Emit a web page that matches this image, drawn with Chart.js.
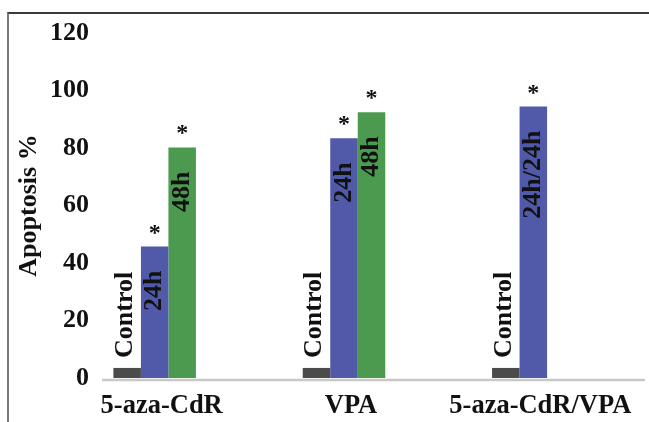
<!DOCTYPE html>
<html>
<head>
    <script src="https://cdn.jsdelivr.net/npm/chart.js"></script>
    <style>
        body { margin: 0; background: #fff; overflow: hidden; }
        #frame { position: absolute; left: 7px; top: 12px; width: 700px; height: 500px;
                 border-top: 2px solid #3a3a3a; border-left: 2px solid #7a7a7a; }
        #apoptosis { position: absolute; left: 0; top: 0; }
    </style>
</head>
<body>
<div id="frame"></div>
<canvas id="apoptosis" width="649" height="422"></canvas>

<script>
    const groups = ['5-aza-CdR', 'VPA', '5-aza-CdR/VPA'];
    const control = [3.5, 3.5, 3.5];
    const h24 = [45.7, 83.4, 94.4];
    const h48 = [80.2, 92.4, null];
    const yTicks = [0, 20, 40, 60, 80, 100, 120];

    // text drawn on / above each bar, and which bars carry a significance star
    const controlText = ['Control', 'Control', 'Control'];
    const text24 = ['24h', '24h', '24h/24h'];
    const text48 = ['48h', '48h', ''];
    const star24 = [true, true, true];
    const star48 = [true, true, false];

    const serif = '"Liberation Serif", "Times New Roman", serif';

    const barNotes = {
        id: 'barNotes',
        beforeDatasetsDraw(chart) {
            const ctx = chart.ctx;
            const y0 = chart.scales.y.getPixelForValue(0) + 2;
            ctx.save();
            ctx.strokeStyle = '#c8c8c8';
            ctx.lineWidth = 2.5;
            ctx.beginPath();
            ctx.moveTo(chart.chartArea.left + 42, y0);
            ctx.lineTo(chart.width - 4, y0);
            ctx.stroke();
            ctx.restore();
        },
        afterDatasetsDraw(chart) {
            const ctx = chart.ctx;
            const texts = [controlText, text24, text48];
            const stars = [[false, false, false], star24, star48];
            ctx.save();
            ctx.fillStyle = '#111';
            chart.data.datasets.forEach((ds, i) => {
                chart.getDatasetMeta(i).data.forEach((bar, j) => {
                    if (ds.data[j] == null) return;
                    const t = texts[i][j];
                    if (t) {
                        ctx.save();
                        ctx.font = 'bold 26px ' + serif;
                        ctx.textBaseline = 'middle';
                        if (i === 0) {
                            ctx.translate(bar.x - 2, bar.y - 10);
                            ctx.rotate(-Math.PI / 2);
                            ctx.textAlign = 'left';
                        } else {
                            ctx.translate(bar.x, bar.y + 24);
                            ctx.rotate(-Math.PI / 2);
                            ctx.textAlign = 'right';
                        }
                        ctx.fillText(t, 0, 0);
                        ctx.restore();
                    }
                    if (stars[i][j]) {
                        ctx.font = 'bold 24px ' + serif;
                        ctx.textAlign = 'center';
                        ctx.textBaseline = 'alphabetic';
                        ctx.fillText('*', bar.x, bar.y - 7);
                    }
                });
            });
            ctx.restore();
        }
    };

    new Chart(document.getElementById('apoptosis'), {
        type: 'bar',
        data: {
            labels: groups,
            datasets: [
                { label: 'Control', data: control, backgroundColor: '#4b4b4b' },
                { label: '24h', data: h24, backgroundColor: '#5159a9' },
                { label: '48h', data: h48, backgroundColor: '#4b9a4f' }
            ]
        },
        options: {
            responsive: false,
            animation: false,
            layout: { padding: { left: 10, right: 21, top: 33, bottom: 0 } },
            datasets: { bar: { barPercentage: 1, categoryPercentage: 0.436 } },
            plugins: { legend: { display: false }, tooltip: { enabled: false } },
            scales: {
                x: {
                    grid: { display: false, drawTicks: false },
                    border: { display: false },
                    ticks: { color: '#111', padding: 12, labelOffset: 7,
                             font: { family: serif, size: 26.5, weight: 'bold' } },
                    afterFit: s => { s.height = 44; }
                },
                y: {
                    min: 0,
                    max: 120,
                    afterBuildTicks: s => { s.ticks = yTicks.map(v => ({ value: v })); },
                    grid: { display: false, drawTicks: false },
                    border: { display: false },
                    ticks: { color: '#111', mirror: true, crossAlign: 'far', padding: -10,
                             font: { family: serif, size: 26, weight: 'bold' } },
                    title: {
                        display: true,
                        text: 'Apoptosis %',
                        color: '#111',
                        padding: { top: 4, bottom: 4 },
                        font: { family: serif, size: 26, weight: 'bold' }
                    },
                    afterFit: s => { s.width = 50; }
                }
            }
        },
        plugins: [barNotes]
    });
</script>
</body>
</html>
